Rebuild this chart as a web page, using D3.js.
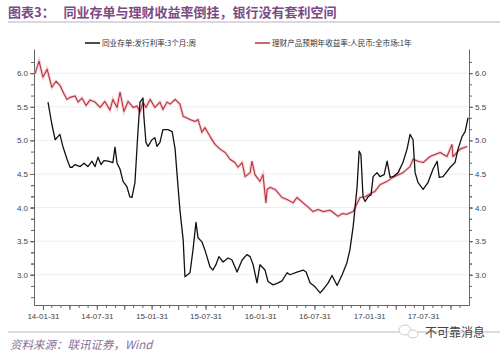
<!DOCTYPE html>
<html>
<head>
<meta charset="utf-8">
<script src="https://cdn.jsdelivr.net/npm/d3@7"></script>
<style>
  body { margin: 0; background: #fff; }
  svg { display: block; font-family: "Noto Sans CJK SC", "Noto Sans", sans-serif; }
</style>
</head>
<body>
<svg id="chart" width="500" height="353"></svg>
<script>
// 理财产品预期年收益率:人民币:全市场:1年
const wmpDates = [
  "2014-01-04","2014-01-18","2014-01-31","2014-02-14","2014-03-02","2014-03-16","2014-03-29",
  "2014-04-12","2014-04-22","2014-05-02","2014-05-19","2014-05-29","2014-06-11","2014-06-25",
  "2014-07-08","2014-07-25","2014-08-11","2014-08-27","2014-09-13","2014-09-23","2014-10-07",
  "2014-10-17","2014-10-30","2014-11-13","2014-11-30","2014-12-13","2014-12-23","2015-01-02",
  "2015-01-12","2015-01-26","2015-02-11","2015-02-28","2015-03-10","2015-03-24","2015-04-03",
  "2015-04-20","2015-05-06","2015-05-17","2015-06-09","2015-06-26","2015-07-06","2015-07-19",
  "2015-07-29","2015-08-15","2015-09-01","2015-09-18","2015-10-05","2015-10-21","2015-11-07",
  "2015-11-17","2015-12-01","2015-12-11","2015-12-28","2016-01-03","2016-01-13","2016-01-30",
  "2016-02-09","2016-02-19","2016-02-23","2016-03-04","2016-03-21","2016-04-13","2016-04-30",
  "2016-05-20","2016-06-02","2016-06-23","2016-07-09","2016-07-26","2016-08-12","2016-08-29",
  "2016-09-21","2016-10-01","2016-10-18","2016-11-01","2016-11-17","2016-12-08","2016-12-31",
  "2017-01-17","2017-02-09","2017-02-19","2017-03-08","2017-04-01","2017-04-21","2017-05-24",
  "2017-06-17","2017-06-27","2017-07-14","2017-07-31","2017-08-23","2017-09-26","2017-10-19",
  "2017-11-05","2017-11-08","2017-11-15","2017-12-02","2017-12-26"
];
const wmpValues = [
  5.99, 6.18, 5.94, 6.06, 5.79, 5.88, 5.82,
  5.69, 5.61, 5.64, 5.66, 5.57, 5.63, 5.52,
  5.60, 5.57, 5.49, 5.58, 5.45, 5.61, 5.49,
  5.72, 5.43, 5.58, 5.49, 5.51, 5.42, 5.57,
  5.49, 5.61, 5.49, 5.57, 5.46, 5.57, 5.54,
  5.61, 5.54, 5.36, 5.31, 5.28, 5.31, 5.12,
  5.19, 5.06, 4.94, 4.87, 4.82, 4.72, 4.67,
  4.60, 4.67, 4.46, 4.52, 4.69, 4.49, 4.39,
  4.49, 4.07, 4.27, 4.30, 4.27, 4.15, 4.12,
  4.07, 4.15, 4.07, 4.01, 3.94, 3.97, 3.94,
  3.96, 3.93, 3.87, 3.91, 3.90, 3.94, 4.15,
  4.16, 4.22, 4.24, 4.34, 4.39, 4.45, 4.52,
  4.61, 4.72, 4.69, 4.67, 4.76, 4.82, 4.76,
  4.94, 4.76, 4.79, 4.87, 4.91
];

// 同业存单:发行利率:3个月:周
const ncdDates = [
  "2014-02-17","2014-03-02","2014-03-13","2014-03-23","2014-03-29","2014-04-08","2014-04-22",
  "2014-05-02","2014-05-09","2014-05-19","2014-06-05","2014-06-18","2014-07-01","2014-07-15",
  "2014-07-25","2014-08-04","2014-08-14","2014-08-24","2014-09-07","2014-09-23","2014-09-30",
  "2014-10-07","2014-10-17","2014-10-27","2014-11-09","2014-11-19","2014-11-26","2014-12-06",
  "2014-12-16","2014-12-23","2015-01-02","2015-01-05","2015-01-12","2015-01-19","2015-02-01",
  "2015-02-11","2015-02-18","2015-02-28","2015-03-10","2015-03-27","2015-04-10","2015-04-20",
  "2015-04-26","2015-05-06","2015-05-17","2015-05-23","2015-06-09","2015-06-19","2015-06-29",
  "2015-07-06","2015-07-19","2015-07-29","2015-08-15","2015-08-25","2015-09-04","2015-09-14",
  "2015-09-28","2015-10-15","2015-10-28","2015-11-14","2015-12-01","2015-12-17","2015-12-28",
  "2016-01-07","2016-01-20","2016-01-30","2016-02-16","2016-02-26","2016-03-14","2016-03-31",
  "2016-04-13","2016-04-30","2016-05-10","2016-06-02","2016-06-23","2016-07-03","2016-07-16",
  "2016-08-02","2016-08-19","2016-08-29","2016-09-15","2016-09-28","2016-10-15","2016-11-01",
  "2016-11-17","2016-11-27","2016-12-08","2016-12-21","2016-12-28","2017-01-03","2017-01-10",
  "2017-01-17","2017-01-27","2017-02-06","2017-02-13","2017-02-26","2017-03-08","2017-03-22",
  "2017-04-01","2017-04-11","2017-04-21","2017-05-08","2017-05-24","2017-06-07","2017-06-17",
  "2017-06-27","2017-07-04","2017-07-14","2017-07-31","2017-08-16","2017-09-02","2017-09-16",
  "2017-09-23","2017-10-06","2017-10-30","2017-11-15","2017-11-25","2017-12-09","2017-12-19",
  "2017-12-29"
];
const ncdValues = [
  5.57, 5.24, 5.01, 5.06, 5.09, 4.91, 4.72,
  4.60, 4.60, 4.64, 4.61, 4.66, 4.61, 4.69,
  4.61, 4.75, 4.64, 4.70, 4.69, 4.67, 4.90,
  4.66, 4.57, 4.39, 4.31, 4.16, 4.15, 4.37,
  5.12, 5.57, 5.63, 5.36, 4.97, 4.91, 5.01,
  5.04, 4.91, 4.97, 5.16, 5.16, 5.13, 4.87,
  4.52, 3.97, 3.52, 2.97, 3.03, 3.37, 3.78,
  3.55, 3.49, 3.37, 3.12, 3.07, 3.15, 3.27,
  3.19, 3.25, 3.22, 3.04, 3.22, 3.30, 3.27,
  3.15, 2.88, 3.15, 3.07, 2.90, 2.85, 2.88,
  2.91, 3.03, 3.00, 3.04, 3.07, 3.04, 2.88,
  2.82, 2.73, 2.78, 2.88, 2.99, 2.84, 3.00,
  3.18, 3.37, 3.72, 4.30, 4.84, 4.79, 4.16,
  4.09, 4.16, 4.19, 4.46, 4.52, 4.46, 4.49,
  4.69, 4.45, 4.46, 4.52, 4.67, 4.87, 5.09,
  5.01, 4.52, 4.37, 4.27, 4.37, 4.57, 4.69,
  4.45, 4.46, 4.60, 4.67, 4.87, 5.06, 5.13,
  5.34
];

const yMajorTicks = [3.0, 3.5, 4.0, 4.5, 5.0, 5.5, 6.0];
const xLabelDates = ["2014-01-31","2014-07-31","2015-01-31","2015-07-31","2016-01-31","2016-07-31","2017-01-31","2017-07-31"];
const seriesNames = ["同业存单:发行利率:3个月:周", "理财产品预期年收益率:人民币:全市场:1年"];

const parse = d3.timeParse("%Y-%m-%d");
const fmt = d3.timeFormat("%y-%m-%d");

const svg = d3.select("#chart");
const plot = { left: 34, right: 469, top: 49, bottom: 305 };

const x_scale = d3.scaleTime()
  .domain([parse("2014-01-01"), parse("2018-01-01")])
  .range([plot.left, plot.right]);
const y_scale = d3.scaleLinear()
  .domain([2.55, 6.36])
  .range([plot.bottom, plot.top]);

// 标题
svg.append("text")
  .attr("x", 8).attr("y", 17)
  .attr("fill", "#7b4a86")
  .attr("font-size", 13).attr("font-weight", "bold")
  .attr("xml:space", "preserve")
  .text("图表3：   同业存单与理财收益率倒挂，银行没有套利空间");
svg.append("line")
  .attr("x1", 8).attr("x2", 500).attr("y1", 22).attr("y2", 22)
  .attr("stroke", "#b9aec0").attr("stroke-width", 1);

// 网格线
svg.append("g").selectAll("line")
  .data(yMajorTicks)
  .join("line")
  .attr("x1", plot.left).attr("x2", plot.right)
  .attr("y1", (d) => y_scale(d)).attr("y2", (d) => y_scale(d))
  .attr("stroke", "#eeeeee");

// 刻度
const minorTicks = d3.range(2.55, 6.36, 0.5 / 3).map((d) => d);
const yMinor = d3.range(-2, 9).map((i) => 3.0 + i * (0.5 / 3)).concat(d3.range(0, 20).map((i) => 3.0 + i * 0.5 / 3))
  .filter((d) => d > 2.56 && d < 6.36);

function styleAxis(g) {
  g.select(".domain").attr("stroke", "#666");
  g.selectAll(".tick line").attr("stroke", "#666");
  g.selectAll(".tick text").attr("fill", "#444").attr("font-size", 8)
    .attr("font-family", "'Liberation Sans', Arial, sans-serif");
}

const yLeft = svg.append("g")
  .attr("transform", `translate(${plot.left},0)`)
  .call(d3.axisLeft(y_scale).tickValues(yMajorTicks).tickFormat(d3.format(".1f")).tickSize(4).tickPadding(2).tickSizeOuter(0));
styleAxis(yLeft);
svg.append("g")
  .attr("transform", `translate(${plot.left},0)`)
  .call(d3.axisLeft(y_scale).tickValues(yMinor).tickFormat("").tickSize(3).tickSizeOuter(0))
  .call((g) => { g.select(".domain").remove(); g.selectAll("line").attr("stroke", "#666"); });

const yRight = svg.append("g")
  .attr("transform", `translate(${plot.right},0)`)
  .call(d3.axisRight(y_scale).tickValues(yMajorTicks).tickFormat(d3.format(".1f")).tickSize(4).tickPadding(2).tickSizeOuter(0));
styleAxis(yRight);
svg.append("g")
  .attr("transform", `translate(${plot.right},0)`)
  .call(d3.axisRight(y_scale).tickValues(yMinor).tickFormat("").tickSize(3).tickSizeOuter(0))
  .call((g) => { g.select(".domain").remove(); g.selectAll("line").attr("stroke", "#666"); });

// 月末刻度
const monthEnds = d3.timeMonth.range(parse("2014-02-01"), parse("2018-01-01"))
  .map((d) => d3.timeDay.offset(d, -1));
const quarterEnds = monthEnds.filter((d) => d.getMonth() % 3 === 0);
const labelSet = new Set(xLabelDates);

svg.append("g")
  .attr("transform", `translate(0,${plot.bottom})`)
  .call(d3.axisBottom(x_scale).tickValues(monthEnds).tickFormat("").tickSize(3).tickSizeOuter(0))
  .call((g) => { g.select(".domain").attr("stroke", "#666"); g.selectAll("line").attr("stroke", "#666"); });
const xAxis = svg.append("g")
  .attr("transform", `translate(0,${plot.bottom})`)
  .call(d3.axisBottom(x_scale).tickValues(quarterEnds)
    .tickFormat((d) => labelSet.has(d3.timeFormat("%Y-%m-%d")(d)) ? fmt(d) : "")
    .tickSize(5).tickPadding(3).tickSizeOuter(0));
styleAxis(xAxis);
xAxis.select(".domain").remove();

// 折线
const wmpData = wmpDates.map((d, i) => ({ date: parse(d), value: wmpValues[i] }));
const ncdData = ncdDates.map((d, i) => ({ date: parse(d), value: ncdValues[i] }));

const line = d3.line()
  .x((d) => x_scale(d.date))
  .y((d) => y_scale(d.value))
  .curve(d3.curveLinear);

svg.append("path").datum(wmpData)
  .attr("fill", "none").attr("stroke", "#e89aa2").attr("stroke-opacity", 0.45)
  .attr("stroke-width", 3).attr("d", line);
svg.append("path").datum(wmpData)
  .attr("fill", "none").attr("stroke", "#b8343f").attr("stroke-width", 1.1)
  .attr("stroke-linejoin", "round").attr("d", line);
svg.append("path").datum(ncdData)
  .attr("fill", "none").attr("stroke", "#111").attr("stroke-width", 1.3)
  .attr("stroke-linejoin", "round").attr("d", line);

// 图例
const legend = svg.append("g").attr("font-size", 7.6).attr("fill", "#333");
const legendItems = [
  { name: seriesNames[0], color: "#111", x: 85 },
  { name: seriesNames[1], color: "#b8343f", x: 255 }
];
legendItems.forEach((it) => {
  legend.append("line")
    .attr("x1", it.x).attr("x2", it.x + 15).attr("y1", 43).attr("y2", 43)
    .attr("stroke", it.color).attr("stroke-width", 1.5);
  legend.append("text")
    .attr("x", it.x + 17).attr("y", 45.5)
    .text(it.name);
});

// 来源
svg.append("line")
  .attr("x1", 8).attr("x2", 500).attr("y1", 332).attr("y2", 332)
  .attr("stroke", "#bbb").attr("stroke-width", 1);
svg.append("text")
  .attr("x", 10).attr("y", 349)
  .attr("fill", "#8a6f96").attr("font-size", 11.5).attr("font-style", "italic")
  .text("资料来源：联讯证券，Wind");

// 水印
const wm = svg.append("g");
wm.append("ellipse").attr("cx", 405).attr("cy", 330).attr("rx", 6).attr("ry", 5)
  .attr("fill", "#fff").attr("stroke", "#ccc");
wm.append("ellipse").attr("cx", 413).attr("cy", 334).attr("rx", 5).attr("ry", 4)
  .attr("fill", "#fff").attr("stroke", "#ccc");
wm.append("text")
  .attr("x", 425).attr("y", 337)
  .attr("fill", "#444").attr("font-size", 12)
  .text("不可靠消息");
</script>
</body>
</html>
